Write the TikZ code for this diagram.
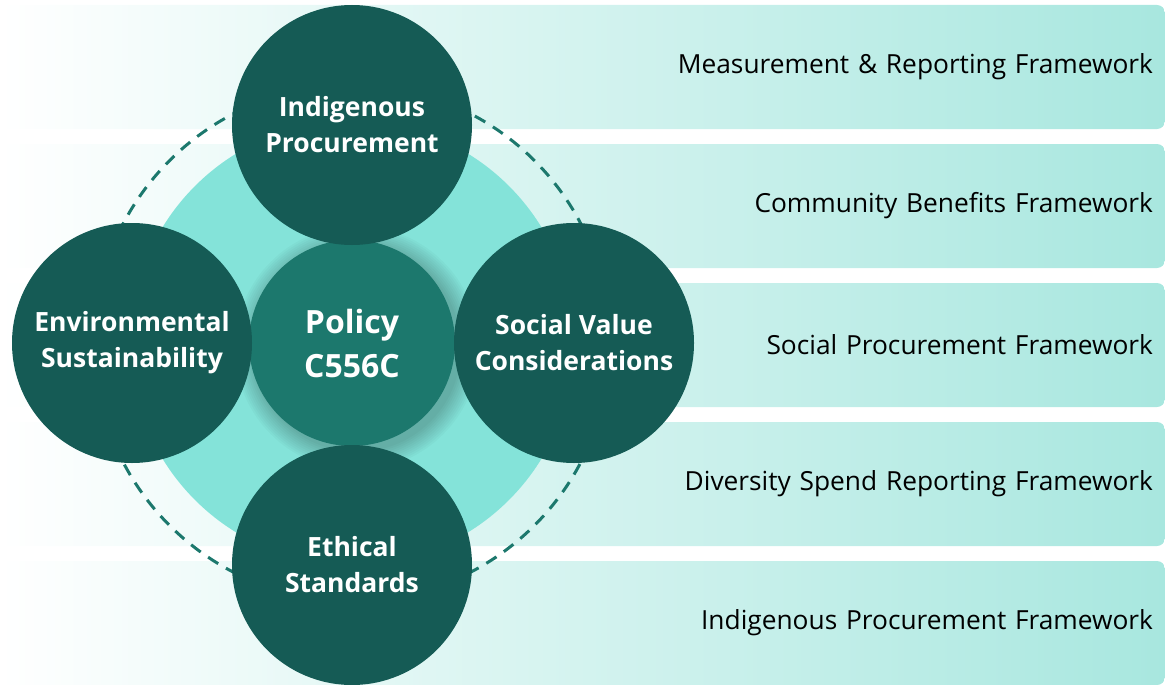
\documentclass[tikz,border=0pt]{standalone}
\usepackage{fontspec}
\setmainfont{Open Sans}
\usetikzlibrary{arrows.meta, calc}

\definecolor{deep}{HTML}{155B55}
\definecolor{core}{HTML}{1C786D}
\definecolor{mint}{HTML}{84E3D9}
\definecolor{bandR}{HTML}{A8E7DF}

\begin{document}
\begin{tikzpicture}[x=1pt,y=-1pt,>=Stealth,
        band/.style={rounded corners=8pt, left color=white, right color=bandR, minimum height=124pt,
            inner xsep=12pt, text width=1141pt, align=right, font=\fontsize{26.3}{30}\selectfont},
        pillar/.style={circle, fill=deep, minimum size=240pt, inner sep=0pt, text=white, align=center,
            font=\bfseries\fontsize{26.5}{36}\selectfont},
        hub/.style={circle, fill=core, minimum size=206pt, inner sep=0pt, text=white, align=center,
            font=\bfseries\fontsize{32}{44}\selectfont}]
    \useasboundingbox (0,0) rectangle (1165,685);
    % frameworks
    \foreach \t [count=\i from 0] in {Measurement \& Reporting Framework, Community Benefits Framework,
            Social Procurement Framework, Diversity Spend Reporting Framework, Indigenous Procurement Framework}
        \node[band] (frame\i) at (582.5,67+139*\i) {\t};
    % rings
    \fill[mint] (352,343) circle (222);
    \draw[core, line width=3pt, dash pattern=on 12pt off 9pt] (352,343) circle (258);
    % shadow of the hub
    \foreach \r in {104,106,...,122}
        \fill[black, opacity=0.025] (357,348) circle (\r);
    \node[hub] (policy) at (352,343) {Policy\\C556C};
    \node[pillar] (indig) at (352,125) {Indigenous\\Procurement};
    \node[pillar] (envir) at (132,343) {Environmental\\Sustainability};
    \node[pillar] (social) at (574,343) {Social Value\\Considerations};
    \node[pillar] (ethic) at (352,565) {Ethical\\Standards};
\end{tikzpicture}
\end{document}
